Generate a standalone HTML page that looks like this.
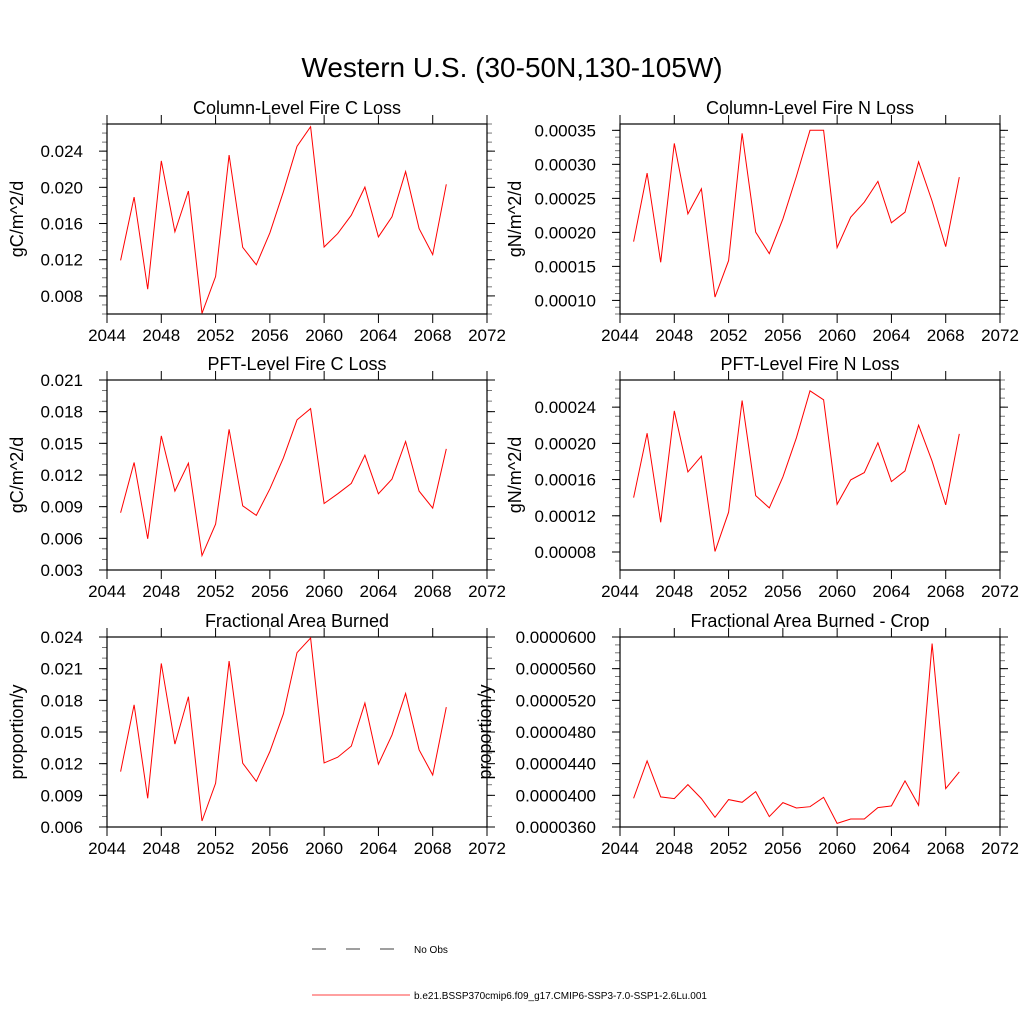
<!DOCTYPE html>
<html><head><meta charset="utf-8"><style>
html,body{margin:0;padding:0;background:#fff;}
svg{display:block;font-family:"Liberation Sans",sans-serif;}
</style></head><body>
<svg id="chart" width="1024" height="1024" viewBox="0 0 1024 1024" xmlns="http://www.w3.org/2000/svg">
<rect width="1024" height="1024" fill="#fff"/>
<text x="512" y="77" font-size="28" text-anchor="middle">Western U.S. (30-50N,130-105W)</text>
<g id="panels"></g>
<g>
<line x1="312" y1="949" x2="410" y2="949" stroke="#000" stroke-width="0.8" stroke-dasharray="14,20"/>
<text x="414" y="953" font-size="10">No Obs</text>
<line x1="312" y1="995" x2="410" y2="995" stroke="#f00" stroke-width="0.8"/>
<text x="414" y="999" font-size="10">b.e21.BSSP370cmip6.f09_g17.CMIP6-SSP3-7.0-SSP1-2.6Lu.001</text>
</g>
</svg>
<script>
const years = [2045,2046,2047,2048,2049,2050,2051,2052,2053,2054,2055,2056,2057,2058,2059,2060,2061,2062,2063,2064,2065,2066,2067,2068,2069];
const xTickLabels = ["2044","2048","2052","2056","2060","2064","2068","2072"];
const colCLoss = [0.01192,0.01892,0.00874,0.02292,0.01508,0.01959,0.00608,0.01014,0.02356,0.01337,0.01144,0.01497,0.01952,0.02452,0.0267,0.01341,0.01489,0.01692,0.02003,0.01452,0.01674,0.02174,0.01544,0.01256,0.02033];
const colNLoss = [18.64e-5,28.71e-5,15.60e-5,33.08e-5,22.72e-5,26.40e-5,10.49e-5,15.85e-5,34.56e-5,20.02e-5,16.88e-5,21.98e-5,28.22e-5,35.0e-5,35.0e-5,17.76e-5,22.23e-5,24.44e-5,27.49e-5,21.40e-5,22.97e-5,30.38e-5,24.59e-5,17.91e-5,28.12e-5];
const pftCLoss = [8.42e-3,13.18e-3,5.96e-3,15.70e-3,10.47e-3,13.12e-3,4.36e-3,7.35e-3,16.33e-3,9.08e-3,8.17e-3,10.69e-3,13.62e-3,17.22e-3,18.29e-3,9.30e-3,10.22e-3,11.20e-3,13.88e-3,10.22e-3,11.61e-3,15.17e-3,10.47e-3,8.86e-3,14.47e-3];
const pftNLoss = [14.01e-5,21.12e-5,11.28e-5,23.59e-5,16.85e-5,18.58e-5,8.07e-5,12.39e-5,24.74e-5,14.23e-5,12.87e-5,16.30e-5,20.61e-5,25.81e-5,24.81e-5,13.27e-5,15.96e-5,16.77e-5,20.06e-5,15.78e-5,16.96e-5,22.01e-5,18.03e-5,13.20e-5,21.05e-5];
const areaBurned = [11.25e-3,17.58e-3,8.72e-3,21.50e-3,13.85e-3,18.34e-3,6.57e-3,10.14e-3,21.72e-3,12.04e-3,10.33e-3,13.15e-3,16.72e-3,22.51e-3,23.91e-3,12.07e-3,12.61e-3,13.66e-3,17.74e-3,11.95e-3,14.73e-3,18.65e-3,13.31e-3,10.93e-3,17.36e-3];
const areaBurnedCrop = [39.63e-6,44.35e-6,39.80e-6,39.59e-6,41.36e-6,39.59e-6,37.22e-6,39.46e-6,39.12e-6,40.47e-6,37.31e-6,39.08e-6,38.40e-6,38.57e-6,39.75e-6,36.46e-6,37.01e-6,37.01e-6,38.45e-6,38.66e-6,41.82e-6,38.74e-6,59.16e-6,40.85e-6,42.96e-6];
const ticks1 = ["0.008","0.012","0.016","0.020","0.024"];
const ticks2 = ["0.00010","0.00015","0.00020","0.00025","0.00030","0.00035"];
const ticks3 = ["0.003","0.006","0.009","0.012","0.015","0.018","0.021"];
const ticks4 = ["0.00008","0.00012","0.00016","0.00020","0.00024"];
const ticks5 = ["0.006","0.009","0.012","0.015","0.018","0.021","0.024"];
const ticks6 = ["0.0000360","0.0000400","0.0000440","0.0000480","0.0000520","0.0000560","0.0000600"];

const NS="http://www.w3.org/2000/svg";
const root=document.getElementById('panels');
function mk(tag,attrs,parent){const e=document.createElementNS(NS,tag);for(const k in attrs)e.setAttribute(k,attrs[k]);parent.appendChild(e);return e;}

const panels=[
 {id:'col-c-loss',title:'Column-Level Fire C Loss',ylab:'gC/m^2/d',data:colCLoss,ticks:ticks1,ymin:0.006,ymax:0.0270,minor:0.001,x0:107,x1:487,y0:124,y1:314,ytx:17},
 {id:'col-n-loss',title:'Column-Level Fire N Loss',ylab:'gN/m^2/d',data:colNLoss,ticks:ticks2,ymin:0.00008,ymax:0.0003593,minor:0.00001,x0:620,x1:1000,y0:124,y1:314,ytx:515},
 {id:'pft-c-loss',title:'PFT-Level Fire C Loss',ylab:'gC/m^2/d',data:pftCLoss,ticks:ticks3,ymin:0.003,ymax:0.021,minor:0.001,x0:107,x1:487,y0:380,y1:570,ytx:17},
 {id:'pft-n-loss',title:'PFT-Level Fire N Loss',ylab:'gN/m^2/d',data:pftNLoss,ticks:ticks4,ymin:0.0000601,ymax:0.00027,minor:0.00001,x0:620,x1:1000,y0:380,y1:570,ytx:515},
 {id:'area-burned',title:'Fractional Area Burned',ylab:'proportion/y',data:areaBurned,ticks:ticks5,ymin:0.006,ymax:0.024,minor:0.001,x0:107,x1:487,y0:637,y1:827,ytx:17},
 {id:'area-burned-crop',title:'Fractional Area Burned - Crop',ylab:'proportion/y',data:areaBurnedCrop,ticks:ticks6,ymin:0.000036,ymax:0.00006,minor:0.000001,x0:620,x1:1000,y0:637,y1:827,ytx:485}
];

panels.forEach(p=>{
 const g=mk('g',{},root);
 
 
 const xs=v=>p.x0+(v-2044)/28*(p.x1-p.x0);
 const ys=v=>p.y1-(v-p.ymin)/(p.ymax-p.ymin)*(p.y1-p.y0);
 const t=mk('text',{x:(p.x0+p.x1)/2,y:p.y0-10,'font-size':18,'text-anchor':'middle'},g);
 t.textContent=p.title;
 
 
 const yt=mk('text',{transform:`translate(${p.ytx+6},${(p.y0+p.y1)/2}) rotate(-90)`,'font-size':18,'text-anchor':'middle'},g);
 yt.textContent=p.ylab;
 
 
 // x ticks
 xTickLabels.forEach(l=>{
  const x=xs(+l);
  mk('line',{x1:x,y1:p.y1,x2:x,y2:p.y1+9,stroke:'#000','stroke-width':1},g);
  mk('line',{x1:x,y1:p.y0,x2:x,y2:p.y0-9,stroke:'#000','stroke-width':1},g);
  const tl=mk('text',{x:x,y:p.y1+27,'font-size':17,'text-anchor':'middle'},g);
  tl.textContent=l;
  
  
 });
 // minor y ticks
 const n=Math.round((p.ymax-p.ymin)/p.minor);
 const start=Math.ceil(p.ymin/p.minor-1e-6);
 for(let i=start;i*p.minor<=p.ymax+1e-12;i++){
  const y=ys(i*p.minor);
  mk('line',{x1:p.x0,y1:y,x2:p.x0-5,y2:y,stroke:'#555','stroke-width':0.8},g);
  mk('line',{x1:p.x1,y1:y,x2:p.x1+5,y2:y,stroke:'#555','stroke-width':0.8},g);
 }
 p.ticks.forEach(l=>{
  const y=ys(parseFloat(l));
  mk('line',{x1:p.x0,y1:y,x2:p.x0-8,y2:y,stroke:'#000','stroke-width':1},g);
  mk('line',{x1:p.x1,y1:y,x2:p.x1+8,y2:y,stroke:'#000','stroke-width':1},g);
  const tl=mk('text',{x:p.x0-24,y:y+6,'font-size':17,'text-anchor':'end'},g);
  tl.textContent=l;
  
  
 });
 const fr=mk('rect',{x:p.x0,y:p.y0,width:p.x1-p.x0,height:p.y1-p.y0,fill:'none',stroke:'#000','stroke-width':1.2},g);
 
 
 const pts=p.data.map((v,i)=>xs(years[i]).toFixed(1)+','+ys(v).toFixed(1)).join(' ');
 const ln=mk('polyline',{points:pts,fill:'none',stroke:'#f00','stroke-width':1},g);
 
 
});
</script>
</body></html>
